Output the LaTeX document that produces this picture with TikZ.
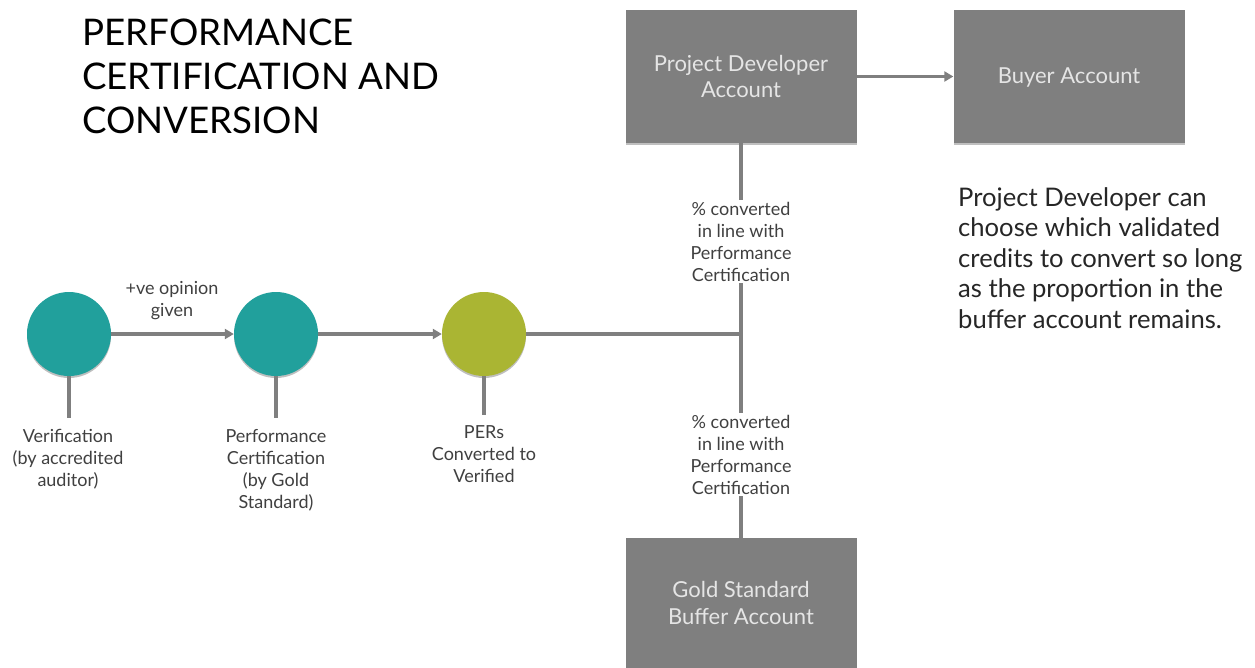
\documentclass[tikz,border=0pt]{standalone}
\usepackage{fontspec}
\setmainfont{Lato}
\usetikzlibrary{arrows.meta,shadows}
\definecolor{boxgray}{HTML}{7F7F7F}
\definecolor{linegray}{HTML}{7F7F7F}
\definecolor{teal1}{HTML}{21A09C}
\definecolor{olive1}{HTML}{AAB533}
\definecolor{txtgray}{HTML}{404040}
\tikzset{
 x=1pt,y=-1pt,
 softshadow/.style={drop shadow={shadow xshift=0pt,shadow yshift=-2pt,opacity=0.25,fill=black}},
 acct/.style={rectangle,fill=boxgray,softshadow,minimum width=231pt,minimum height=133pt,text=white!90!black,align=center,font=\fontsize{22}{26.5}\selectfont,inner sep=0pt},
 dot/.style={circle,minimum size=84pt,inner sep=0pt,softshadow},
 conn/.style={draw=linegray,line width=3.5pt},
 arr/.style={conn,-{Triangle[length=9pt,width=10pt]}},
 lab/.style={align=center,text=txtgray,font=\fontsize{18}{22}\selectfont,inner sep=0pt},
}
\begin{document}
\begin{tikzpicture}
\useasboundingbox (0,0) rectangle (1255,667);
\fill[white] (0,0) rectangle (1255,667);
\node[acct] (dev) at (741,76.5) {Project Developer\\Account};
\node[acct] (buyer) at (1069,76.5) {\raisebox{-7pt}[0pt][0pt]{Buyer Account}};
\node[acct,minimum height=130pt] (buf) at (741,603) {Gold Standard\\Buffer Account};
\node[dot,fill=teal1] (a) at (69,334) {};
\node[dot,fill=teal1] (b) at (276,334) {};
\node[dot,fill=olive1] (c) at (484,334) {};
\coordinate (j) at (741,334);
\coordinate (a0) at (69,418);
\coordinate (b0) at (276,418);
\coordinate (c0) at (484,415);
\node[lab,fill=white,inner ysep=2pt] (l1) at (741,241.5) {\% converted\\in line with\\Performance\\Certification};
\node[lab,fill=white,inner ysep=2pt] (l2) at (741,454.5) {\% converted\\in line with\\Performance\\Certification};
\node[lab,anchor=north] (t1) at (68,429) {Verification\\(by accredited\\auditor)};
\node[lab,anchor=north] (t2) at (276,429) {Performance\\Certification\\(by Gold\\Standard)};
\node[lab,anchor=north] (t3) at (484,425.5) {PERs\\Converted to\\Verified};
\node[lab] (op) at (172,301) {+ve opinion\\given};
\draw[arr] (a) -- (b);
\draw[arr] (b) -- (c);
\draw[conn,line width=4.5pt] (c) -- (j);
\draw[arr] (dev) -- (buyer);
\draw[conn] (dev) -- (l1);
\draw[conn] (l1) -- (l2);
\draw[conn] (l2) -- (buf);
\draw[conn] (a) -- (a0);
\draw[conn] (b) -- (b0);
\draw[conn] (c) -- (c0);
\node[anchor=north west,align=left,text=black,font=\fontsize{36.7}{44}\selectfont,inner sep=0pt] (title) at (82,19) {PERFORMANCE\\CERTIFICATION AND\\CONVERSION};
\node[anchor=north west,align=left,text=black!85,font=\fontsize{25.6}{30.5}\selectfont,inner sep=0pt] (note) at (958,187) {Project Developer can\\choose which validated\\credits to convert so long\\as the proportion in the\\buffer account remains.};
\end{tikzpicture}
\end{document}
